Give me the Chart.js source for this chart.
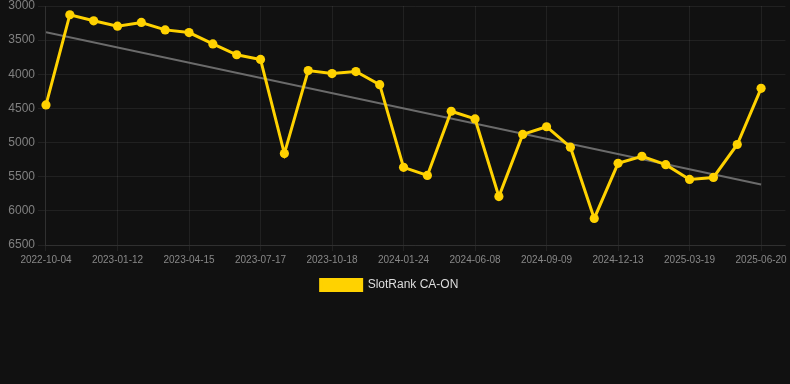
<!DOCTYPE html>
<html>
<head>
<meta charset="utf-8">
<script src="https://cdn.jsdelivr.net/npm/chart.js@4/dist/chart.umd.min.js"></script>
<style>
html,body{margin:0;padding:0;background:#111111;}
#wrap{position:relative;width:790px;height:301px;}
</style>
</head>
<body>
<div id="wrap"><canvas id="c"></canvas></div>
<script>
const dates = [
  "2022-10-04","2022-11-06","2022-12-09","2023-01-12","2023-02-12","2023-03-15",
  "2023-04-15","2023-05-16","2023-06-16","2023-07-17","2023-08-17","2023-09-17",
  "2023-10-18","2023-11-20","2023-12-22","2024-01-24","2024-03-10","2024-04-24",
  "2024-06-08","2024-07-09","2024-08-09","2024-09-09","2024-10-11","2024-11-12",
  "2024-12-13","2025-01-14","2025-02-15","2025-03-19","2025-04-19","2025-05-20",
  "2025-06-20"
];
const rankValues = [
  4448, 3128, 3217, 3295, 3241, 3350, 3389, 3556, 3714, 3783,
  5161, 3945, 3989, 3960, 4152, 5363, 5481, 4541, 4654, 5791,
  4881, 4768, 5068, 6111, 5304, 5200, 5324, 5540, 5511, 5028,
  4206
];
const trendValues = [3384, 5614]; // trend line at first and last date
const yTicks = [3000, 3500, 4000, 4500, 5000, 5500, 6000, 6500];
const seriesName = "SlotRank CA-ON";

const rankData = rankValues.map((v, i) => ({x: i, y: v}));
const trendData = [{x: 0, y: trendValues[0]}, {x: dates.length - 1, y: trendValues[1]}];

const FONT = "'Liberation Sans', Arial, sans-serif";
const gridColor = "rgba(255,255,255,0.07)";
new Chart(document.getElementById("c"), {
  type: "line",
  data: {
    datasets: [
      {
        label: seriesName,
        data: rankData,
        borderColor: "#FFD200",
        backgroundColor: "#FFD200",
        borderWidth: 3,
        pointRadius: 4.6,
        pointHoverRadius: 4.6,
        pointBorderWidth: 0,
        pointBackgroundColor: "#FFD200",
        pointBorderColor: "#FFD200",
        tension: 0,
        clip: false
      },
      {
        label: "trend",
        data: trendData,
        borderColor: "#6b6b6b",
        backgroundColor: "#6b6b6b",
        borderWidth: 2,
        pointRadius: 0,
        tension: 0
      }
    ]
  },
  options: {
    responsive: true,
    maintainAspectRatio: false,
    animation: false,
    layout: {padding: {left: -21.6, right: -10.6}},
    scales: {
      x: {
        type: "linear",
        min: 0,
        max: 31.02,
        afterFit: (axis) => { axis.paddingRight = 0; axis.paddingLeft = 0; },
        grid: {color: gridColor, tickLength: 6},
        border: {color: gridColor},
        ticks: {
          stepSize: 3,
          includeBounds: false,
          autoSkip: false,
          maxRotation: 0,
          color: "#888888",
          font: {size: 10, family: FONT},
          callback: (v) => dates[v] !== undefined ? dates[v] : ""
        }
      },
      y: {
        reverse: true,
        min: yTicks[0],
        max: yTicks[yTicks.length - 1],
        afterBuildTicks: (axis) => { axis.ticks = yTicks.map(v => ({value: v})); },
        afterFit: (axis) => { axis.width = 67.6; axis.paddingTop = 6; axis.paddingBottom = 0; },
        grid: {color: gridColor},
        border: {color: gridColor},
        ticks: {
          color: "#808080",
          font: {size: 12, family: FONT},
          callback: (v) => String(v)
        }
      }
    },
    plugins: {
      legend: {
        position: "bottom",
        labels: {
          color: "#dddddd",
          font: {size: 12, family: FONT},
          boxWidth: 41,
          boxHeight: 11,
          filter: (item) => item.text === seriesName
        }
      },
      tooltip: {enabled: false}
    }
  }
});
</script>
</body>
</html>
